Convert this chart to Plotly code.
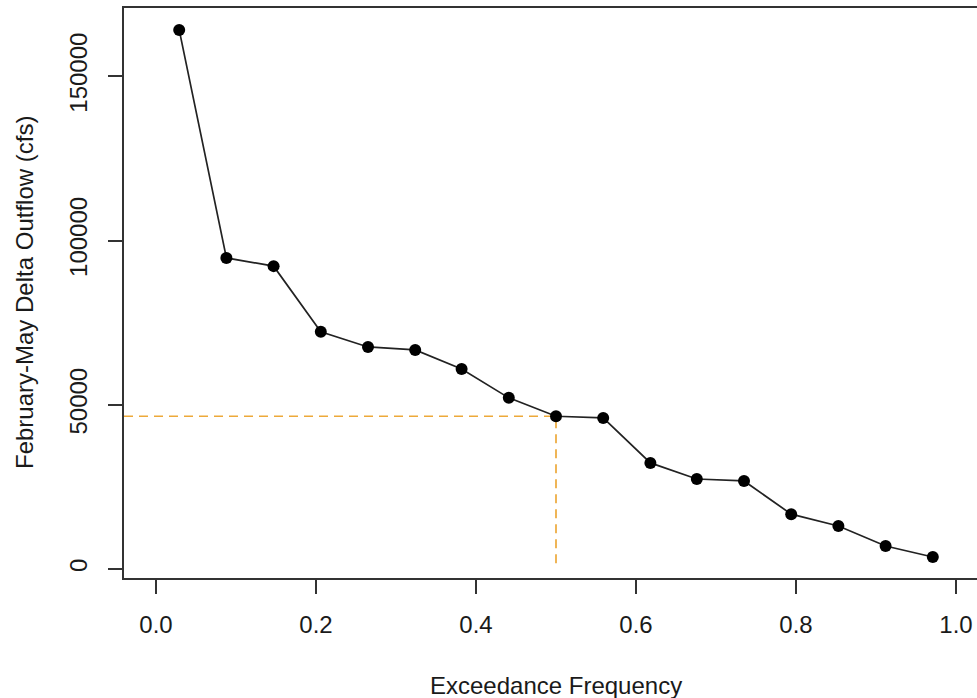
import plotly.graph_objects as go

# exceedance frequency vs. Feb-May Delta outflow (cfs)
exceedance = [0.029, 0.088, 0.147, 0.206, 0.265, 0.324, 0.382, 0.441, 0.500,
              0.559, 0.618, 0.676, 0.735, 0.794, 0.853, 0.912, 0.971]
outflow = [164100, 94700, 92200, 72200, 67600, 66700, 60900, 52100, 46500,
           46000, 32300, 27400, 26800, 16700, 13100, 7000, 3650]

median_freq = 0.5
median_flow = 46500

x_ticks = [0.0, 0.2, 0.4, 0.6, 0.8, 1.0]
y_ticks = [0, 50000, 100000, 150000]

# R-style padding; right side of the frame is cropped off in the original
x_range = [-0.04, 1.02625]
y_range = [-2740, 170780]

font = "Liberation Sans, Arial, sans-serif"
ink = "#1a1a1a"
axis_col = "#333333"

fig = go.Figure()

# dashed guide to the median
fig.add_trace(go.Scatter(
    x=[x_range[0], median_freq, median_freq],
    y=[median_flow, median_flow, 0],
    mode="lines",
    line=dict(color="#EDA93A", width=1.7, dash="9px,6px"),
    hoverinfo="skip",
))

fig.add_trace(go.Scatter(
    x=exceedance, y=outflow,
    mode="lines+markers",
    line=dict(color="#222222", width=1.7),
    marker=dict(color="black", size=12),
))

fig.update_xaxes(
    range=x_range, tickvals=x_ticks, tickformat=".1f",
    showline=True, linecolor=axis_col, linewidth=1.6, mirror=True,
    ticks="outside", ticklen=14, tickwidth=1.6, tickcolor=axis_col,
    ticklabelstandoff=10, automargin=False,
    showgrid=False, zeroline=False,
    tickfont=dict(family=font, size=24, color=ink),
)
fig.update_yaxes(
    range=y_range, tickvals=y_ticks, tickformat="d", tickangle=-90,
    showline=True, linecolor=axis_col, linewidth=1.6,
    ticks="outside", ticklen=14, tickwidth=1.6, tickcolor=axis_col,
    ticklabelstandoff=12, automargin=False,
    showgrid=False, zeroline=False,
    tickfont=dict(family=font, size=24, color=ink),
)

fig.add_annotation(
    text="Exceedance Frequency", xref="x", x=0.5, yref="paper", y=0,
    yanchor="middle", yshift=-107, showarrow=False,
    font=dict(family=font, size=24, color=ink),
)
fig.add_annotation(
    text="February-May Delta Outflow (cfs)", xref="paper", x=0, xanchor="center",
    xshift=-100, yref="paper", y=0.5, textangle=-90, showarrow=False,
    font=dict(family=font, size=24, color=ink),
)

fig.update_layout(
    width=977, height=698,
    margin=dict(l=124, r=0, t=8, b=120),
    paper_bgcolor="white", plot_bgcolor="white",
    showlegend=False,
)

# drop the default body margin so the figure fills the window exactly
fig.write_html(
    "out.html",
    config={"displayModeBar": False},
    post_script="document.body.style.margin='0';document.body.style.overflow='hidden';",
)
